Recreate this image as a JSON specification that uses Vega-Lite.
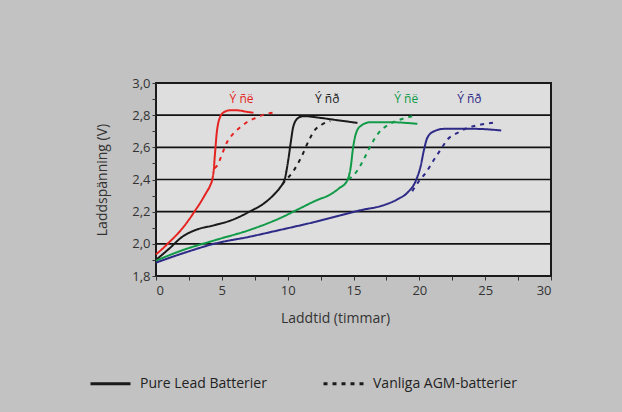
{
  "$schema": "https://vega.github.io/schema/vega-lite/v6.json",
  "width": 395,
  "height": 193,
  "autosize": "none",
  "padding": {"left": 156, "top": 83, "right": 71, "bottom": 136},
  "background": "#c2c2c2",
  "config": {
    "font": "Open Sans",
    "view": {"fill": "#dedede", "stroke": "#1a1a1a", "strokeWidth": 2},
    "axis": {
      "domain": false,
      "tickColor": "#333333",
      "tickSize": 4,
      "labelFontSize": 13,
      "labelColor": "#333333",
      "titleFontSize": 14,
      "titleFontWeight": "normal",
      "titleColor": "#333333",
      "labelOverlap": false
    }
  },
  "datasets": {
    "grid": [{"v": 2.0}, {"v": 2.2}, {"v": 2.4}, {"v": 2.6}, {"v": 2.8}],
    "curves": [
      {"g": "A", "type": "Pure Lead Batterier", "x": 0, "y": 1.935},
      {"g": "A", "type": "Pure Lead Batterier", "x": 0.5, "y": 1.97},
      {"g": "A", "type": "Pure Lead Batterier", "x": 1.0, "y": 2.01},
      {"g": "A", "type": "Pure Lead Batterier", "x": 1.5, "y": 2.05},
      {"g": "A", "type": "Pure Lead Batterier", "x": 2.0, "y": 2.096},
      {"g": "A", "type": "Pure Lead Batterier", "x": 2.5, "y": 2.15},
      {"g": "A", "type": "Pure Lead Batterier", "x": 3.0, "y": 2.21},
      {"g": "A", "type": "Pure Lead Batterier", "x": 3.4, "y": 2.26},
      {"g": "A", "type": "Pure Lead Batterier", "x": 3.8, "y": 2.316},
      {"g": "A", "type": "Pure Lead Batterier", "x": 4.1, "y": 2.36},
      {"g": "A", "type": "Pure Lead Batterier", "x": 4.3, "y": 2.41},
      {"g": "A", "type": "Pure Lead Batterier", "x": 4.4, "y": 2.47},
      {"g": "A", "type": "Pure Lead Batterier", "x": 4.45, "y": 2.53},
      {"g": "A", "type": "Pure Lead Batterier", "x": 4.52, "y": 2.6},
      {"g": "A", "type": "Pure Lead Batterier", "x": 4.6, "y": 2.68},
      {"g": "A", "type": "Pure Lead Batterier", "x": 4.7, "y": 2.74},
      {"g": "A", "type": "Pure Lead Batterier", "x": 4.85, "y": 2.785},
      {"g": "A", "type": "Pure Lead Batterier", "x": 5.1, "y": 2.815},
      {"g": "A", "type": "Pure Lead Batterier", "x": 5.6, "y": 2.83},
      {"g": "A", "type": "Pure Lead Batterier", "x": 6.2, "y": 2.83},
      {"g": "A", "type": "Pure Lead Batterier", "x": 6.8, "y": 2.822},
      {"g": "A", "type": "Pure Lead Batterier", "x": 7.4, "y": 2.815},
      {"g": "A", "type": "Vanliga AGM-batterier", "x": 4.45, "y": 2.47},
      {"g": "A", "type": "Vanliga AGM-batterier", "x": 4.67, "y": 2.49},
      {"g": "A", "type": "Vanliga AGM-batterier", "x": 5.05, "y": 2.564},
      {"g": "A", "type": "Vanliga AGM-batterier", "x": 5.43, "y": 2.638},
      {"g": "A", "type": "Vanliga AGM-batterier", "x": 5.82, "y": 2.68},
      {"g": "A", "type": "Vanliga AGM-batterier", "x": 6.33, "y": 2.72},
      {"g": "A", "type": "Vanliga AGM-batterier", "x": 6.84, "y": 2.753},
      {"g": "A", "type": "Vanliga AGM-batterier", "x": 7.6, "y": 2.784},
      {"g": "A", "type": "Vanliga AGM-batterier", "x": 8.24, "y": 2.805},
      {"g": "A", "type": "Vanliga AGM-batterier", "x": 8.93, "y": 2.816},
      {"g": "B", "type": "Pure Lead Batterier", "x": 0, "y": 1.90},
      {"g": "B", "type": "Pure Lead Batterier", "x": 1.0, "y": 1.97},
      {"g": "B", "type": "Pure Lead Batterier", "x": 2.0, "y": 2.044},
      {"g": "B", "type": "Pure Lead Batterier", "x": 3.0, "y": 2.086},
      {"g": "B", "type": "Pure Lead Batterier", "x": 4.5, "y": 2.117},
      {"g": "B", "type": "Pure Lead Batterier", "x": 5.8, "y": 2.149},
      {"g": "B", "type": "Pure Lead Batterier", "x": 7.1, "y": 2.2},
      {"g": "B", "type": "Pure Lead Batterier", "x": 8.4, "y": 2.264},
      {"g": "B", "type": "Pure Lead Batterier", "x": 9.0, "y": 2.31},
      {"g": "B", "type": "Pure Lead Batterier", "x": 9.4, "y": 2.348},
      {"g": "B", "type": "Pure Lead Batterier", "x": 9.8, "y": 2.41},
      {"g": "B", "type": "Pure Lead Batterier", "x": 10.05, "y": 2.524},
      {"g": "B", "type": "Pure Lead Batterier", "x": 10.23, "y": 2.628},
      {"g": "B", "type": "Pure Lead Batterier", "x": 10.43, "y": 2.73},
      {"g": "B", "type": "Pure Lead Batterier", "x": 10.8, "y": 2.783},
      {"g": "B", "type": "Pure Lead Batterier", "x": 11.2, "y": 2.794},
      {"g": "B", "type": "Pure Lead Batterier", "x": 12.5, "y": 2.783},
      {"g": "B", "type": "Pure Lead Batterier", "x": 13.75, "y": 2.769},
      {"g": "B", "type": "Pure Lead Batterier", "x": 15.3, "y": 2.752},
      {"g": "B", "type": "Vanliga AGM-batterier", "x": 9.6, "y": 2.37},
      {"g": "B", "type": "Vanliga AGM-batterier", "x": 9.8, "y": 2.39},
      {"g": "B", "type": "Vanliga AGM-batterier", "x": 10.43, "y": 2.452},
      {"g": "B", "type": "Vanliga AGM-batterier", "x": 11.07, "y": 2.545},
      {"g": "B", "type": "Vanliga AGM-batterier", "x": 11.58, "y": 2.638},
      {"g": "B", "type": "Vanliga AGM-batterier", "x": 12.09, "y": 2.71},
      {"g": "B", "type": "Vanliga AGM-batterier", "x": 12.6, "y": 2.742},
      {"g": "B", "type": "Vanliga AGM-batterier", "x": 13.24, "y": 2.763},
      {"g": "C", "type": "Pure Lead Batterier", "x": 0, "y": 1.895},
      {"g": "C", "type": "Pure Lead Batterier", "x": 2.0, "y": 1.96},
      {"g": "C", "type": "Pure Lead Batterier", "x": 4.5, "y": 2.023},
      {"g": "C", "type": "Pure Lead Batterier", "x": 7.1, "y": 2.086},
      {"g": "C", "type": "Pure Lead Batterier", "x": 9.4, "y": 2.159},
      {"g": "C", "type": "Pure Lead Batterier", "x": 10.9, "y": 2.219},
      {"g": "C", "type": "Pure Lead Batterier", "x": 12.2, "y": 2.271},
      {"g": "C", "type": "Pure Lead Batterier", "x": 13.2, "y": 2.305},
      {"g": "C", "type": "Pure Lead Batterier", "x": 13.9, "y": 2.345},
      {"g": "C", "type": "Pure Lead Batterier", "x": 14.5, "y": 2.39},
      {"g": "C", "type": "Pure Lead Batterier", "x": 14.8, "y": 2.483},
      {"g": "C", "type": "Pure Lead Batterier", "x": 14.95, "y": 2.587},
      {"g": "C", "type": "Pure Lead Batterier", "x": 15.13, "y": 2.67},
      {"g": "C", "type": "Pure Lead Batterier", "x": 15.5, "y": 2.73},
      {"g": "C", "type": "Pure Lead Batterier", "x": 16.28, "y": 2.756},
      {"g": "C", "type": "Pure Lead Batterier", "x": 17.8, "y": 2.756},
      {"g": "C", "type": "Pure Lead Batterier", "x": 19.85, "y": 2.746},
      {"g": "C", "type": "Vanliga AGM-batterier", "x": 14.62, "y": 2.40},
      {"g": "C", "type": "Vanliga AGM-batterier", "x": 15.26, "y": 2.452},
      {"g": "C", "type": "Vanliga AGM-batterier", "x": 15.77, "y": 2.524},
      {"g": "C", "type": "Vanliga AGM-batterier", "x": 16.28, "y": 2.607},
      {"g": "C", "type": "Vanliga AGM-batterier", "x": 16.91, "y": 2.69},
      {"g": "C", "type": "Vanliga AGM-batterier", "x": 17.68, "y": 2.742},
      {"g": "C", "type": "Vanliga AGM-batterier", "x": 18.57, "y": 2.773},
      {"g": "C", "type": "Vanliga AGM-batterier", "x": 19.72, "y": 2.798},
      {"g": "D", "type": "Pure Lead Batterier", "x": 0, "y": 1.883},
      {"g": "D", "type": "Pure Lead Batterier", "x": 2.0, "y": 1.94},
      {"g": "D", "type": "Pure Lead Batterier", "x": 4.5, "y": 2.002},
      {"g": "D", "type": "Pure Lead Batterier", "x": 7.1, "y": 2.044},
      {"g": "D", "type": "Pure Lead Batterier", "x": 9.4, "y": 2.086},
      {"g": "D", "type": "Pure Lead Batterier", "x": 12.0, "y": 2.135},
      {"g": "D", "type": "Pure Lead Batterier", "x": 13.2, "y": 2.16},
      {"g": "D", "type": "Pure Lead Batterier", "x": 15.77, "y": 2.213},
      {"g": "D", "type": "Pure Lead Batterier", "x": 17.04, "y": 2.234},
      {"g": "D", "type": "Pure Lead Batterier", "x": 18.32, "y": 2.276},
      {"g": "D", "type": "Pure Lead Batterier", "x": 19.08, "y": 2.317},
      {"g": "D", "type": "Pure Lead Batterier", "x": 19.72, "y": 2.39},
      {"g": "D", "type": "Pure Lead Batterier", "x": 20.1, "y": 2.483},
      {"g": "D", "type": "Pure Lead Batterier", "x": 20.36, "y": 2.587},
      {"g": "D", "type": "Pure Lead Batterier", "x": 20.61, "y": 2.66},
      {"g": "D", "type": "Pure Lead Batterier", "x": 21.12, "y": 2.70},
      {"g": "D", "type": "Pure Lead Batterier", "x": 21.89, "y": 2.715},
      {"g": "D", "type": "Pure Lead Batterier", "x": 24.18, "y": 2.715},
      {"g": "D", "type": "Pure Lead Batterier", "x": 26.22, "y": 2.705},
      {"g": "D", "type": "Vanliga AGM-batterier", "x": 19.46, "y": 2.327},
      {"g": "D", "type": "Vanliga AGM-batterier", "x": 19.97, "y": 2.39},
      {"g": "D", "type": "Vanliga AGM-batterier", "x": 20.48, "y": 2.441},
      {"g": "D", "type": "Vanliga AGM-batterier", "x": 21.12, "y": 2.524},
      {"g": "D", "type": "Vanliga AGM-batterier", "x": 21.63, "y": 2.587},
      {"g": "D", "type": "Vanliga AGM-batterier", "x": 22.14, "y": 2.649},
      {"g": "D", "type": "Vanliga AGM-batterier", "x": 22.9, "y": 2.69},
      {"g": "D", "type": "Vanliga AGM-batterier", "x": 23.67, "y": 2.721},
      {"g": "D", "type": "Vanliga AGM-batterier", "x": 24.69, "y": 2.742},
      {"g": "D", "type": "Vanliga AGM-batterier", "x": 25.84, "y": 2.756}
    ],
    "labels": [
      {"g": "A", "label": "Ý ñë", "x": 6.5, "y": 2.9},
      {"g": "B", "label": "Ý ñð", "x": 13.0, "y": 2.9},
      {"g": "C", "label": "Ý ñë", "x": 19.0, "y": 2.9},
      {"g": "D", "label": "Ý ñð", "x": 23.8, "y": 2.9}
    ]
  },
  "layer": [
    {
      "data": {"name": "grid"},
      "mark": {"type": "rule", "color": "#111111", "strokeWidth": 1.6},
      "encoding": {
        "y": {"field": "v", "type": "quantitative"}
      }
    },
    {
      "data": {"name": "curves"},
      "mark": {"type": "line", "strokeWidth": 2, "interpolate": "monotone"},
      "encoding": {
        "x": {
          "field": "x", "type": "quantitative",
          "scale": {"domain": [0, 30], "nice": false},
          "axis": {
            "title": "Laddtid (timmar)",
            "values": [0, 2.5, 5, 7.5, 10, 12.5, 15, 17.5, 20, 22.5, 25, 27.5, 30],
            "tickCount": 30,
            "labelExpr": "datum.value % 5 === 0 ? datum.label : ''",
            "labelOverlap": false,
            "grid": false,
            "labelPadding": 4,
            "titlePadding": 14,
            "titleX": 179
          }
        },
        "y": {
          "field": "y", "type": "quantitative",
          "scale": {"domain": [1.8, 3.0], "nice": false, "zero": false},
          "axis": {
            "title": "Laddspänning (V)",
            "values": [1.8, 1.9, 2.0, 2.1, 2.2, 2.3, 2.4, 2.5, 2.6, 2.7, 2.8, 2.9, 3.0],
            "tickCount": 30,
            "labelExpr": "abs(datum.value * 5 - round(datum.value * 5)) < 0.01 ? replace(format(datum.value, '.1f'), '.', ',') : ''",
            "labelOverlap": false,
            "grid": false,
            "titlePadding": 22
          }
        },
        "color": {
          "field": "g", "type": "nominal",
          "scale": {"domain": ["A", "B", "C", "D"], "range": ["#e52421", "#1a1a1a", "#119b48", "#2e2a87"]},
          "legend": null
        },
        "strokeDash": {
          "field": "type", "type": "nominal",
          "scale": {"domain": ["Pure Lead Batterier", "Vanliga AGM-batterier"], "range": [[1, 0], [4, 5]]},
          "legend": {
            "orient": "none",
            "legendX": -67,
            "legendY": 279,
            "direction": "horizontal",
            "title": null,
            "symbolType": "stroke",
            "symbolStrokeColor": "#1a1a1a",
            "symbolStrokeWidth": 3,
            "symbolSize": 1600,
            "labelFontSize": 14,
            "labelColor": "#222222",
            "labelOffset": 8,
            "columnPadding": 50,
            "labelLimit": 300,
            "padding": 0
          }
        },
        "detail": {"field": "type"}
      }
    },
    {
      "data": {"name": "labels"},
      "mark": {"type": "text", "fontSize": 12, "baseline": "middle", "align": "center"},
      "encoding": {
        "x": {"field": "x", "type": "quantitative"},
        "y": {"field": "y", "type": "quantitative"},
        "text": {"field": "label"},
        "color": {"field": "g", "type": "nominal", "legend": null}
      }
    }
  ]
}
